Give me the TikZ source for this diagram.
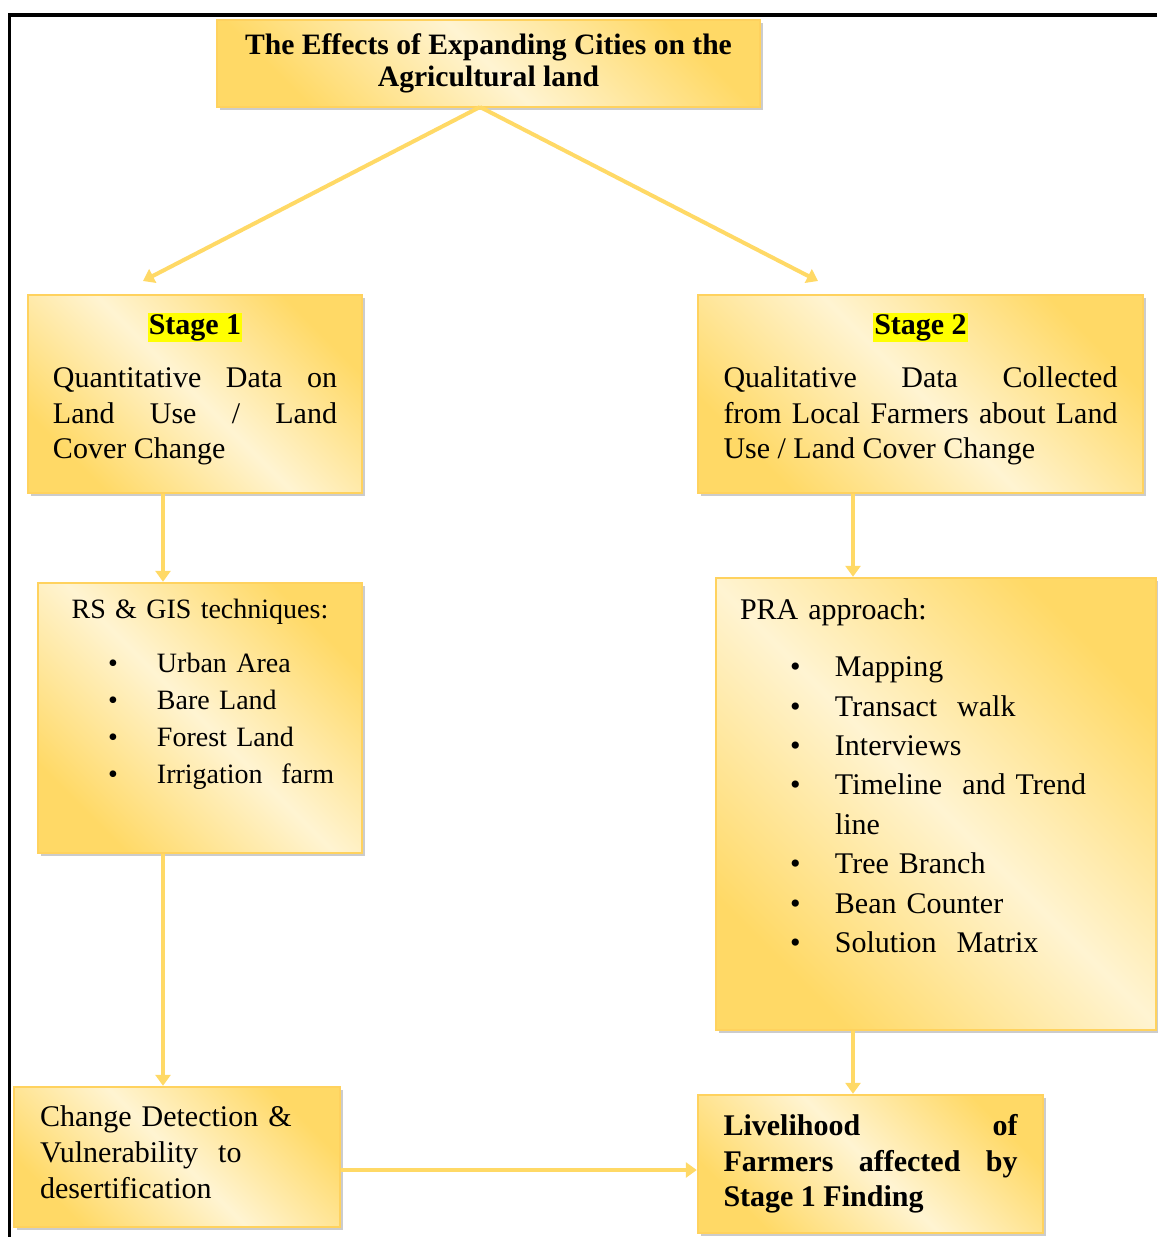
\documentclass[tikz,border=0pt]{standalone}
\usepackage{fontspec}
\setmainfont{Liberation Serif}
\usetikzlibrary{arrows.meta,shadows}
\definecolor{gold}{RGB}{255,217,102}
\definecolor{cream}{RGB}{255,244,210}
\definecolor{hilite}{RGB}{255,255,0}
\newcommand{\stagetag}[1]{\makebox[\linewidth][c]{\setlength{\fboxsep}{0.6pt}\colorbox{hilite}{\textbf{#1}}}}
\newcommand{\dotitem}[3]{\hspace*{#1}\makebox[#2][l]{\textbullet}#3}
\newcommand{\padbelow}[1]{\par\vspace{#1}\hrule height 0pt}
\tikzset{
  panel/.style={
    draw=gold!92!orange,
    line width=1.2pt,
    left color=gold,
    right color=gold,
    middle color=cream,
    shading angle=-45,
    drop shadow={shadow xshift=1.6pt,shadow yshift=-1.6pt,fill=black!40},
    inner xsep=12.5pt,
    inner ysep=4pt,
    font=\fontsize{15}{17.75}\selectfont
  },
  feed/.style={draw=gold,line width=2pt,-{Triangle[width=7.5pt,length=5.5pt]}}
}

\begin{document}
\begin{tikzpicture}[
  x=0.5pt,
  y=-0.5pt
]
  \useasboundingbox (0,0) rectangle (1157,1237);
  \draw[line width=1.7pt] (1157,15) -- (9.5,15) -- (9.5,1237);

  \node[panel,minimum width=271.5pt,minimum height=43.5pt,align=center,
        font=\fontsize{14.8}{16}\selectfont\bfseries] (title) at (488.5,63.5)
    {The Effects of Expanding Cities on the\\Agricultural land};

  \node[panel,text width=142pt,align=justify,minimum height=99pt] (s1) at (195,394)
    {\stagetag{Stage 1}\par\vspace{9pt}%
     Quantitative Data on\linebreak Land Use / Land\linebreak Cover Change\padbelow{5pt}};
  \node[panel,text width=197pt,inner xsep=12.75pt,align=justify,minimum height=99pt] (s2) at (920.5,394)
    {\stagetag{Stage 2}\par\vspace{9pt}%
     Qualitative Data Collected\linebreak from Local Farmers about Land\linebreak Use / Land Cover Change\padbelow{5pt}};

  \node[panel,text width=142pt,inner xsep=10pt,align=left,minimum height=135pt,
        font=\fontsize{14}{18.5}\selectfont] (rs) at (200,718)
    {\makebox[\linewidth][c]{RS \& GIS techniques:}\\[8.5pt]
     \dotitem{25pt}{24.5pt}{Urban Area}\\
     \dotitem{25pt}{24.5pt}{Bare Land}\\
     \dotitem{25pt}{24.5pt}{Forest Land}\\
     \dotitem{25pt}{24.5pt}{Irrigation~ farm}\par\vspace{8.5pt}\null};
  \node[panel,text width=196pt,inner xsep=12pt,align=left,minimum height=226pt,
        font=\fontsize{15}{19.7}\selectfont] (pra) at (936,804)
    {PRA approach:\\[9pt]
     \dotitem{25pt}{22.5pt}{Mapping}\\
     \dotitem{25pt}{22.5pt}{Transact\ \ walk}\\
     \dotitem{25pt}{22.5pt}{Interviews}\\
     \dotitem{25pt}{22.5pt}{Timeline\ \ and Trend}\\
     \hspace*{47.5pt}line\\
     \dotitem{25pt}{22.5pt}{Tree Branch}\\
     \dotitem{25pt}{22.5pt}{Bean Counter}\\
     \dotitem{25pt}{22.5pt}{Solution\ \ Matrix}\par\vspace{8.8pt}\null};

  \node[panel,text width=137pt,inner xsep=13pt,align=left,minimum height=70pt,
        font=\fontsize{15}{18}\selectfont] (chg) at (177,1157)
    {Change Detection \&\\Vulnerability\ \ to\\desertification\padbelow{5pt}};
  \node[panel,text width=147pt,inner xsep=12.75pt,align=justify,minimum height=69pt,
        font=\fontsize{15}{17.75}\selectfont\bfseries] (liv) at (870.5,1164)
    {Livelihood of\linebreak Farmers affected by\linebreak Stage 1 Finding};

  \coordinate (t0) at (480,107);
  \coordinate (t1) at (143,281);
  \coordinate (t2) at (818,281);
  \coordinate (lx) at (163,0);
  \coordinate (rx) at (853,0);
  \coordinate (hy) at (0,1170);

  \draw[feed] (t0) -- (t1);
  \draw[feed] (t0) -- (t2);
  \draw[feed] (s1.south -| lx) -- (rs.north -| lx);
  \draw[feed] (rs.south -| lx) -- (chg.north -| lx);
  \draw[feed] (s2.south -| rx) -- (pra.north -| rx);
  \draw[feed] (pra.south -| rx) -- (liv.north -| rx);
  \draw[feed] (chg.east |- hy) -- (liv.west |- hy);
\end{tikzpicture}
\end{document}
